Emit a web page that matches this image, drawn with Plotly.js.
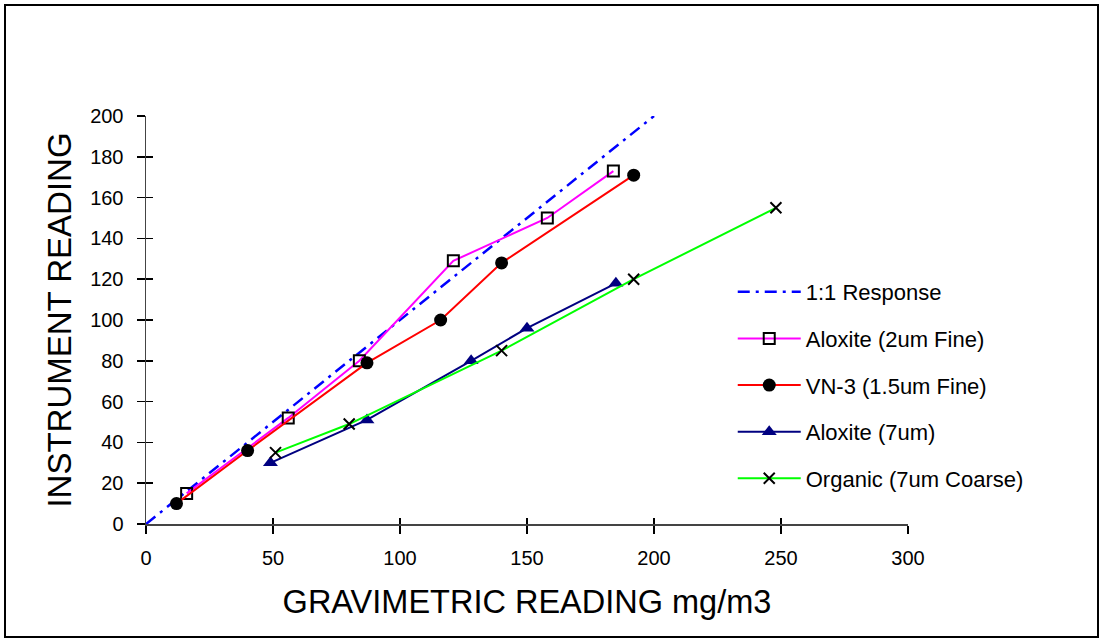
<!DOCTYPE html>
<html><head><meta charset="utf-8">
<script src="https://cdn.plot.ly/plotly-3.0.1.min.js"></script>
<style>html,body{margin:0;padding:0;background:#fff}#chart{width:1103px;height:642px}</style>
</head><body><div id="chart"></div>
<script>
const refX = [0, 200];
const refY = [0, 200];
const alox2X = [16, 56, 84, 121, 158, 184];
const alox2Y = [15, 52, 80, 129, 150, 173];
const vn3X = [12, 40, 87, 116, 140, 192];
const vn3Y = [10, 36, 79, 100, 128, 171];
const alox7X = [49, 87, 128, 150, 185];
const alox7Y = [30, 51, 80, 96, 118];
const orgX = [51, 80, 140, 192, 248];
const orgY = [35, 49, 85, 120, 155];
const names = ['1:1 Response', 'Aloxite (2um Fine)', 'VN-3 (1.5um Fine)', 'Aloxite (7um)', 'Organic (7um Coarse)'];
const xTicks = [0, 50, 100, 150, 200, 250, 300];
const yTicks = [0, 20, 40, 60, 80, 100, 120, 140, 160, 180, 200];

const traces = [
  {x: refX, y: refY, name: names[0], mode: 'lines', line: {color: '#0000ff', width: 2.5, dash: '12px,6px,3px,6px'}, legendgroup: 'a'},
  {x: alox2X, y: alox2Y, name: names[1], mode: 'lines+markers', line: {color: '#ff00ff', width: 2},
   marker: {symbol: 'square-open', size: 11, color: '#000', line: {width: 2, color: '#000'}}, legendgroup: 'b'},
  {x: vn3X, y: vn3Y, name: names[2], mode: 'lines+markers', line: {color: '#ff0000', width: 2},
   marker: {symbol: 'circle', size: 13, color: '#000'}, legendgroup: 'c'},
  {x: alox7X, y: alox7Y, name: names[3], mode: 'lines+markers', line: {color: '#000080', width: 2},
   marker: {symbol: 'triangle-up', size: 13, color: '#000080'}, legendgroup: 'd'},
  {x: orgX, y: orgY, name: names[4], mode: 'lines+markers', line: {color: '#00ff00', width: 2},
   marker: {symbol: 'x-thin-open', size: 11, color: '#000', line: {width: 2, color: '#000'}}, legendgroup: 'e'}
];
traces.push({x: [0], y: [0], xaxis: 'x2', yaxis: 'y2', mode: 'markers', marker: {opacity: 0}, showlegend: false, hoverinfo: 'skip'});

const font = {family: 'Liberation Sans, Arial, sans-serif', color: '#000'};
const layout = {
  width: 1103, height: 642,
  margin: {l: 146, r: 195, t: 116, b: 118},
  paper_bgcolor: '#fff', plot_bgcolor: '#fff',
  font: Object.assign({size: 20}, font),
  showlegend: true,
  xaxis: {range: [0, 300], tickvals: xTicks, ticktext: xTicks.map(String), showgrid: false, zeroline: false,
          showline: true, linecolor: '#444', linewidth: 1.5, ticks: 'outside', ticklen: 8, tickcolor: '#000', tickwidth: 1.5,
          ticklabelstandoff: 7,
          tickfont: Object.assign({size: 20}, font),
          title: {text: 'GRAVIMETRIC READING mg/m3', font: Object.assign({size: 32.5}, font), standoff: 22}},
  yaxis: {range: [0, 200], tickvals: yTicks, ticktext: yTicks.map(String), showgrid: false, zeroline: false,
          showline: true, linecolor: '#444', linewidth: 1.5, ticks: 'outside', ticklen: 8, tickcolor: '#000', tickwidth: 1.5,
          ticklabelstandoff: 9,
          tickfont: Object.assign({size: 20}, font),
          title: {text: 'INSTRUMENT READING', font: Object.assign({size: 33}, font), standoff: 8}},
  xaxis2: {range: [0, 300], overlaying: 'x', tickvals: xTicks, showticklabels: false, showgrid: false, zeroline: false,
           ticks: 'inside', ticklen: 6, tickcolor: '#000', tickwidth: 1.5, anchor: 'y2', side: 'bottom'},
  yaxis2: {range: [0, 200], overlaying: 'y', tickvals: yTicks, showticklabels: false, showgrid: false, zeroline: false,
           ticks: 'inside', ticklen: 7, tickcolor: '#000', tickwidth: 1.5, anchor: 'x2', side: 'left'},
  legend: {x: 0.77, y: 0.62, xanchor: 'left', yanchor: 'top', traceorder: 'grouped', tracegroupgap: 15,
           itemwidth: 63, font: Object.assign({size: 22}, font), bgcolor: 'rgba(0,0,0,0)'},
  shapes: [{type: 'rect', xref: 'paper', yref: 'paper',
            x0: (5 - 146) / 762, x1: (1098 - 146) / 762, y0: (524 - 637) / 408, y1: (524 - 5) / 408,
            line: {color: '#000', width: 2}, fillcolor: 'rgba(0,0,0,0)', layer: 'below'}]
};
Plotly.newPlot('chart', traces, layout, {displayModeBar: false, staticPlot: true});
</script></body></html>
